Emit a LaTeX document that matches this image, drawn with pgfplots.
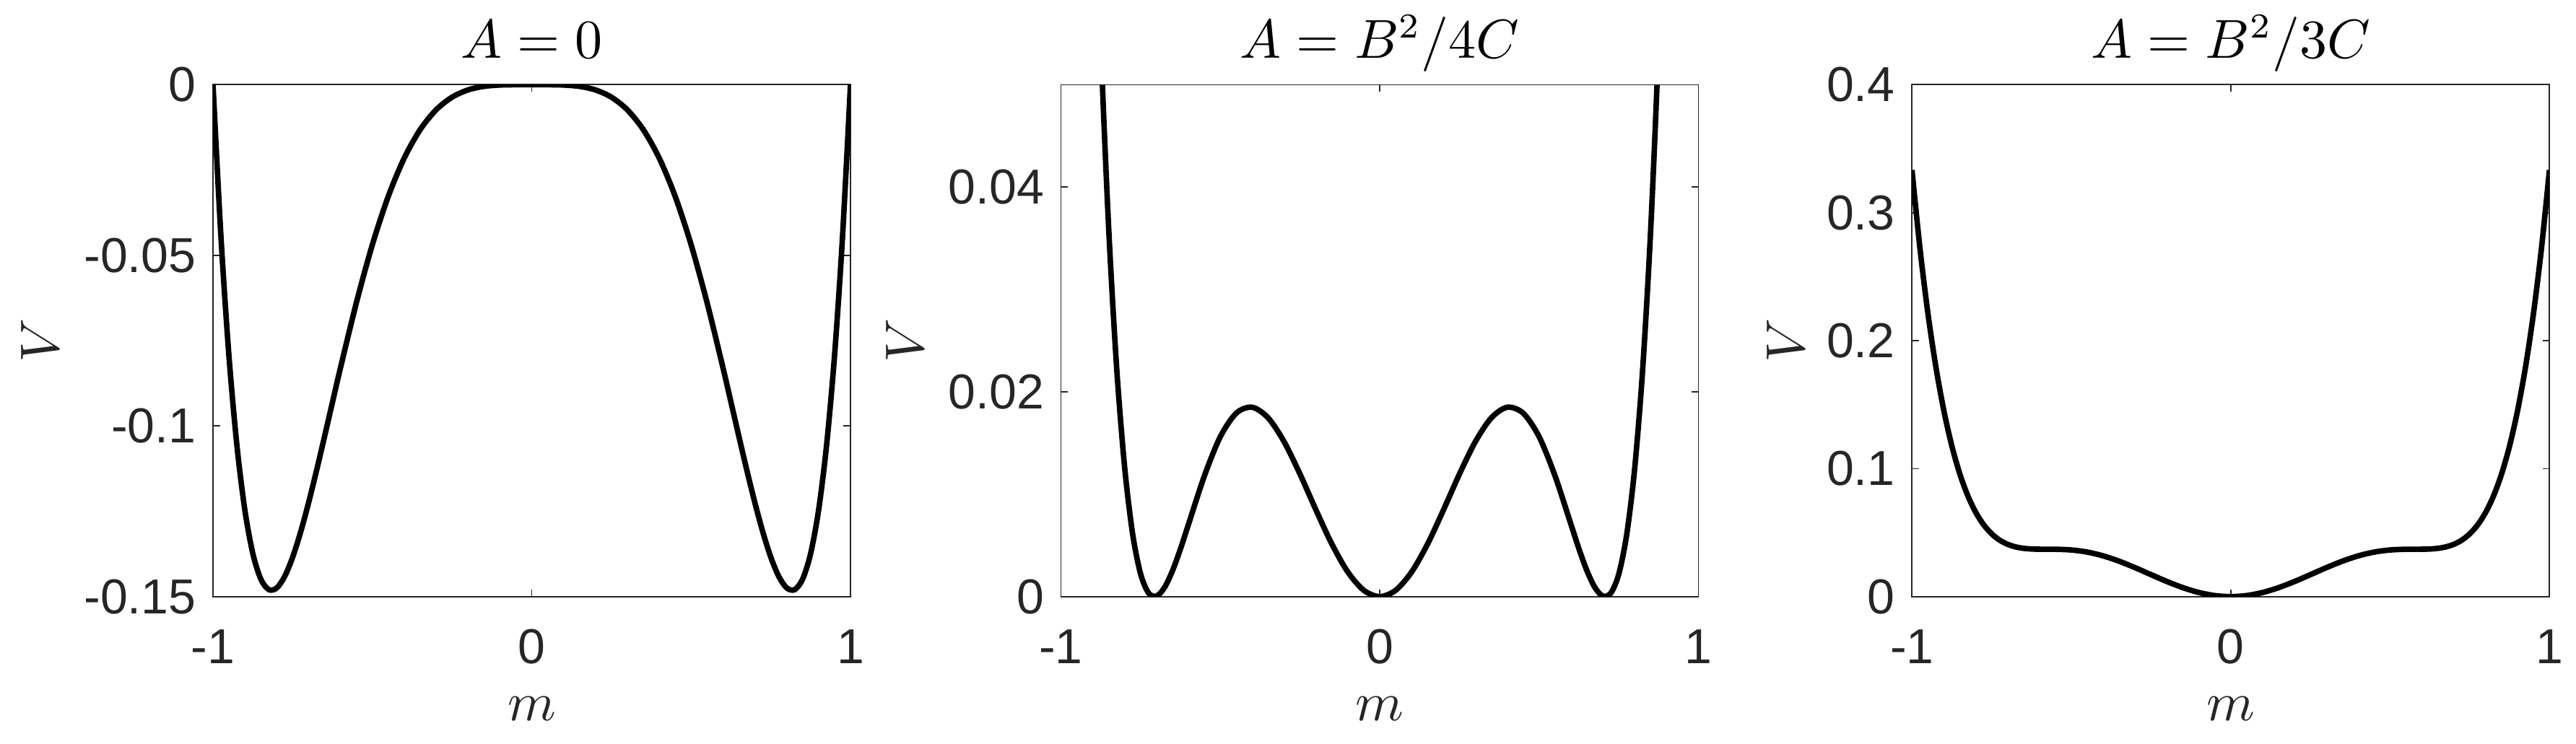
\documentclass[border=0pt]{standalone}
\usepackage{pgfplots}
\pgfplotsset{compat=1.18}
\usepackage{pgfplotstable}
\usepackage{fontspec}
\newfontfamily\tickfont{Liberation Sans}
\definecolor{axgray}{RGB}{38,38,38}

% V(m) for the three cases: A=0, A=B^2/4C, A=B^2/3C (B=C=1)
\pgfplotstableread{
m      va         vb        vc
-1     0          0.25      0.333333
-0.975 -0.044620  0.193037  0.272255
-0.95  -0.079414  0.146210  0.221419
-0.925 -0.105696  0.108210  0.179512
-0.9   -0.124659  0.077841  0.145341
-0.875 -0.137387  0.054020  0.117821
-0.85  -0.144857  0.035768  0.095977
-0.825 -0.147950  0.022206  0.078925
-0.8   -0.147456  0.012544  0.065877
-0.775 -0.144075  0.006082  0.056133
-0.75  -0.138428  0.002197  0.049073
-0.725 -0.131061  0.000345  0.044147
-0.7   -0.122451  0.000049  0.040882
-0.675 -0.113009  0.000897  0.038866
-0.65  -0.103087  0.002538  0.037746
-0.625 -0.092983  0.004673  0.037225
-0.6   -0.082944  0.007056  0.037056
-0.55  -0.063826  0.011799  0.037008
-0.5   -0.046875  0.015625  0.036458
-0.45  -0.032702  0.017923  0.034798
-0.4   -0.021504  0.018496  0.031829
-0.35  -0.013168  0.017457  0.027665
-0.3   -0.007371  0.015129  0.022629
-0.25  -0.003662  0.011963  0.017171
-0.2   -0.001536  0.008464  0.011797
-0.15  -0.000495  0.005130  0.007005
-0.1   -0.000099  0.002401  0.003234
-0.05  -0.000006  0.000619  0.000827
0      0          0         0
0.05   -0.000006  0.000619  0.000827
0.1    -0.000099  0.002401  0.003234
0.15   -0.000495  0.005130  0.007005
0.2    -0.001536  0.008464  0.011797
0.25   -0.003662  0.011963  0.017171
0.3    -0.007371  0.015129  0.022629
0.35   -0.013168  0.017457  0.027665
0.4    -0.021504  0.018496  0.031829
0.45   -0.032702  0.017923  0.034798
0.5    -0.046875  0.015625  0.036458
0.55   -0.063826  0.011799  0.037008
0.6    -0.082944  0.007056  0.037056
0.625  -0.092983  0.004673  0.037225
0.65   -0.103087  0.002538  0.037746
0.675  -0.113009  0.000897  0.038866
0.7    -0.122451  0.000049  0.040882
0.725  -0.131061  0.000345  0.044147
0.75   -0.138428  0.002197  0.049073
0.775  -0.144075  0.006082  0.056133
0.8    -0.147456  0.012544  0.065877
0.825  -0.147950  0.022206  0.078925
0.85   -0.144857  0.035768  0.095977
0.875  -0.137387  0.054020  0.117821
0.9    -0.124659  0.077841  0.145341
0.925  -0.105696  0.108210  0.179512
0.95   -0.079414  0.146210  0.221419
0.975  -0.044620  0.193037  0.272255
1      0          0.25      0.333333
}\potdata

\pgfplotsset{
  panel/.style={
    scale only axis,
    width=127.2pt, height=102.2pt,
    xmin=-1, xmax=1,
    xtick={-1,0,1}, xticklabels={-1,0,1},
    scaled y ticks=false,
    tick align=inside, tickpos=both,
    major tick length=1.4pt,
    axis line style={draw=axgray, line width=0.25pt},
    tick style={draw=axgray, line width=0.25pt},
    ticklabel style={font=\fontsize{9.8}{10}\selectfont\tickfont, text=axgray},
    /pgf/number format/assume math mode=true,
    xticklabel style={anchor=base, yshift=-13.4pt},
    yticklabel style={anchor=east, inner sep=0pt, xshift=-3.2pt},
    every axis title shift=0pt,
    title style={at={(axis description cs:0.5,1)}, anchor=base, yshift=5.3pt,
      font=\fontsize{10.6}{12}\selectfont},
    every axis x label/.style={at={(axis description cs:0.5,0)}, anchor=base,
      yshift=-24.8pt, font=\fontsize{10.6}{12}\selectfont, text=axgray},
    xlabel={$m$},
    ylabel={$V$},
  },
  curve/.style={black, line width=1.1pt, smooth, no markers},
}

\begin{document}
\begin{tikzpicture}
\useasboundingbox (-42.5pt,-29.4pt) rectangle (471.5pt,119.1pt);

\begin{axis}[panel, at={(0pt,0pt)}, anchor=south west,
  ymin=-0.15, ymax=0,
  ytick={-0.15,-0.1,-0.05,0}, yticklabels={-0.15,-0.1,-0.05,0},
  title={$A=0$},
  every axis y label/.style={at={([xshift=-30.7pt]axis description cs:0,0.5)},
    rotate=90, anchor=base, font=\fontsize{10.6}{12}\selectfont, text=axgray},
]
\addplot[curve] table[x=m, y=va] {\potdata};
\end{axis}

\begin{axis}[panel, at={(169.2pt,0pt)}, anchor=south west,
  ymin=0, ymax=0.05,
  ytick={0,0.02,0.04}, yticklabels={0,0.02,0.04},
  title={$A=B^2/4C$},
  every axis y label/.style={at={([xshift=-27.4pt]axis description cs:0,0.5)},
    rotate=90, anchor=base, font=\fontsize{10.6}{12}\selectfont, text=axgray},
]
\addplot[curve] table[x=m, y=vb] {\potdata};
\end{axis}

\begin{axis}[panel, at={(339pt,0pt)}, anchor=south west,
  ymin=0, ymax=0.4,
  ytick={0,0.1,0.2,0.3,0.4}, yticklabels={0,0.1,0.2,0.3,0.4},
  title={$A=B^2/3C$},
  every axis y label/.style={at={([xshift=-21.5pt]axis description cs:0,0.5)},
    rotate=90, anchor=base, font=\fontsize{10.6}{12}\selectfont, text=axgray},
]
\addplot[curve] table[x=m, y=vc] {\potdata};
\end{axis}
\end{tikzpicture}
\end{document}
